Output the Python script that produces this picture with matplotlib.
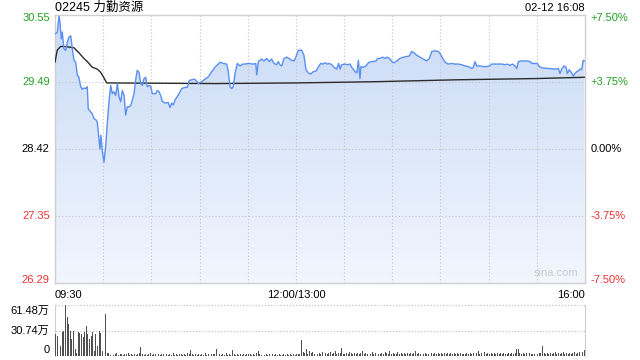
import matplotlib
matplotlib.use("Agg")
import matplotlib.pyplot as plt
import matplotlib.transforms as mtransforms
from matplotlib.patches import PathPatch
from matplotlib.colors import LinearSegmentedColormap
import numpy as np

plt.rcParams['font.family'] = ['Liberation Sans', 'Noto Sans CJK SC', 'DejaVu Sans']

title = "02245 力勤资源"
stamp = "02-12 16:08"
prev_close = 28.42
price_ticks = [30.55, 29.49, 28.42, 27.35, 26.29]
pct_ticks = ["+7.50%", "+3.75%", "0.00%", "-3.75%", "-7.50%"]
time_labels = ["09:30", "12:00/13:00", "16:00"]
vol_ticks = [61.48, 30.74, 0]
vol_labels = ["61.48万", "30.74万", "0"]

# minutes since 09:30 (trading time, lunch removed) and price
t_price = [0, 1.4, 2.5, 3.1, 3.9, 4.5, 5.6, 6.7, 7.7, 8.7, 9.8, 10.8, 11.8, 12.9, 13.9,
           14.9, 16, 17, 18, 19.1, 20.1, 20.7, 22.2, 23.2, 24.3, 25.3, 26.3, 27.4, 28,
           28.6, 29.5, 30.5, 31.6, 32.6, 33.6, 34.7, 35.7, 36.7, 37.8, 38.8, 39.9, 40.9,
           41.9, 43, 44, 45, 46.1, 47.1, 48.1, 49.2, 50.2, 51.2, 52.3, 53.4, 54.4, 55.4,
           56.5, 57.5, 58.5, 59.6, 60.6, 62.7, 63.7, 64.8, 65.8, 66.8, 68.5, 70.5, 71.6,
           72.7, 73.7, 74.7, 76.8, 78.9, 80.9, 82.4, 83.6, 85.1, 86.6, 87.8, 89.2, 91.3,
           93.4, 95.5, 97.6, 99.6, 101.7, 102.7, 104.8, 106.9, 107.9, 109, 110, 111,
           112.1, 113.5, 115.2, 116.9, 118.3, 120.4, 123.5, 125, 125.6, 126.6, 128.7,
           130.1, 131.8, 133.4, 134.9, 136.4, 138, 139, 140.1, 141.2, 142.6, 144.3,
           146.3, 147.4, 148.8, 150.1, 151.5, 153.6, 155, 156.3, 157.7, 159.2, 160.8,
           162.5, 163.9, 165.4, 166.7, 168.1, 169.6, 170.8, 172.3, 173.7, 175.4, 176.6,
           177.5, 178.5, 180.6, 182, 183.7, 184.7, 185.7, 186.8, 187.9, 188.9, 189.9,
           190.5, 192, 193.6, 195.1, 196.6, 198.2, 199.9, 200.9, 202.4, 204, 205.5,
           206.9, 208.6, 209.7, 211.1, 212.8, 214.8, 216.9, 219, 220.6, 222.1, 223.5,
           225.2, 227.3, 229.3, 231.4, 233.1, 234.6, 236.6, 238.7, 239.7, 241.4, 242.8,
           244.9, 247, 249.1, 251.1, 253.2, 255.3, 257.4, 259.5, 260.5, 261.5, 262.6,
           264.6, 266.7, 268.8, 270.4, 271.9, 275, 278.1, 280.2, 281.6, 283.3, 285,
           286.4, 287.5, 288.5, 290.6, 293.7, 295.8, 296.8, 300.3, 301.6, 303.1, 307.2,
           311.3, 313.4, 314.4, 315.5, 316.9, 318.2, 319, 320.2, 321.7, 322.7, 323.8,
           324.8, 325.8, 326.9, 327.9, 328.9, 329.6]
price = [30.25, 30.27, 30.53, 30.44, 30.17, 30.28, 30.01, 29.99, 30.12, 30.20, 30.22, 30.01,
         29.83, 29.80, 29.59, 29.56, 29.41, 29.37, 29.39, 29.38, 29.41, 29.06, 29.01, 28.98,
         28.90, 28.89, 28.85, 28.58, 28.42, 28.64, 28.37, 28.21, 28.48, 28.85, 29.17, 29.43,
         29.30, 29.33, 29.27, 29.46, 29.25, 29.17, 29.35, 29.27, 28.96, 29.09, 29.09, 29.11,
         29.19, 29.30, 29.51, 29.67, 29.64, 29.46, 29.43, 29.54, 29.56, 29.41, 29.43, 29.42,
         29.30, 29.30, 29.35, 29.33, 29.27, 29.18, 29.15, 29.16, 29.08, 29.15, 29.12, 29.20,
         29.28, 29.38, 29.40, 29.40, 29.51, 29.52, 29.53, 29.51, 29.46, 29.49, 29.53, 29.57,
         29.65, 29.72, 29.77, 29.80, 29.78, 29.77, 29.65, 29.41, 29.38, 29.41, 29.62, 29.78,
         29.74, 29.77, 29.77, 29.78, 29.77, 29.78, 29.60, 29.81, 29.85, 29.82, 29.86, 29.81,
         29.85, 29.78, 29.76, 29.81, 29.76, 29.74, 29.86, 29.88, 29.85, 29.83, 29.82, 29.89,
         29.99, 29.99, 29.91, 29.68, 29.63, 29.61, 29.65, 29.66, 29.72, 29.78, 29.77, 29.79,
         29.77, 29.78, 29.76, 29.72, 29.69, 29.78, 29.69, 29.76, 29.77, 29.76, 29.77, 29.72,
         29.69, 29.65, 29.63, 29.83, 29.54, 29.73, 29.72, 29.74, 29.79, 29.81, 29.81, 29.82,
         29.86, 29.86, 29.88, 29.86, 29.88, 29.85, 29.81, 29.79, 29.82, 29.86, 29.88, 29.89,
         29.90, 29.97, 29.95, 29.91, 29.88, 29.85, 29.82, 29.86, 29.97, 29.98, 29.97, 29.94,
         29.86, 29.80, 29.77, 29.78, 29.77, 29.77, 29.76, 29.74, 29.73, 29.70, 29.72, 29.81,
         29.74, 29.74, 29.73, 29.73, 29.74, 29.77, 29.77, 29.77, 29.76, 29.77, 29.75, 29.77,
         29.74, 29.70, 29.81, 29.82, 29.82, 29.81, 29.78, 29.78, 29.73, 29.71, 29.70, 29.69,
         29.70, 29.62, 29.69, 29.74, 29.72, 29.62, 29.68, 29.63, 29.58, 29.62, 29.65, 29.66,
         29.69, 29.68, 29.83, 29.82]

t_avg = [0, 1.4, 3.5, 5.6, 11.8, 12.9, 14.9, 18, 20.1, 23.2, 26.3, 28.4, 30.5, 32.2,
         33.6, 100, 150, 200, 250, 300, 329.6]
avg_price = [29.80, 29.99, 30.05, 30.05, 30.03, 30.00, 29.95, 29.86, 29.81, 29.72, 29.69,
             29.64, 29.55, 29.47, 29.47, 29.46, 29.47, 29.49, 29.52, 29.54, 29.56]

# volume per minute, in 万
volume = [26.6, 24.6, 27.5, 12.3, 28.7, 30.7, 61.5, 47.0, 39.0, 30.7, 20.5, 30.7, 8.0, 4.0,
          28.7, 27.5, 26.6, 22.5, 28.7, 35.7, 26.6, 20.5, 24.6, 28.7, 6.0, 26.6, 12.3, 30.7,
          27.5, 6.0, 8.0, 51.0, 4.0,
          3.5, 1.8, 2.6, 1.2, 2.9, 4.1, 1.5, 2.2, 3.0, 1.4, 2.7, 1.9, 3.3, 1.1, 2.4, 1.7,
          2.8, 1.3, 2.0, 3.6, 11.0, 2.5, 1.6, 2.9, 1.2, 2.1, 3.1,
          1.5, 2.3, 1.9, 9.0, 2.6, 1.4, 3.0, 2.0, 1.2, 2.8, 1.7, 2.4, 1.3, 3.2, 1.8, 2.5,
          1.1, 2.0, 2.9, 1.6, 2.2, 1.4, 3.4, 1.9, 7.8, 2.6, 1.5, 2.1, 1.3, 2.7,
          1.8, 2.4, 1.2, 3.1, 1.6, 2.2, 1.4, 2.9, 1.9, 2.5, 8.6, 6.5, 2.0, 1.3, 2.8, 1.7,
          3.3, 1.5, 2.1, 1.2, 7.0, 2.6, 1.8, 3.0, 1.4, 2.3, 1.6, 2.7, 1.1, 2.0,
          1.9, 2.4, 1.3, 2.8, 1.6, 3.5, 6.0, 2.2, 1.4, 2.6, 1.8, 2.1, 1.2, 2.9, 1.7, 2.3,
          1.5, 2.0, 1.3, 2.5, 1.8, 1.4, 2.2, 1.6, 2.0, 1.2, 1.9, 1.5, 2.3, 1.7,
          2.4, 3.0, 2.2, 19.0, 4.5, 3.2, 8.0, 2.6, 6.0, 3.4, 5.0, 2.8, 4.1, 2.3, 3.6, 2.9,
          4.4, 2.1, 3.8, 2.7, 3.1, 4.6, 2.5, 3.3, 6.0, 2.8, 4.0, 3.5, 9.4, 3.0,
          2.6, 3.9, 2.2, 4.8, 3.1, 2.5, 3.7, 2.0, 4.2, 2.9, 3.4, 6.0, 2.4, 3.8, 2.7, 3.2,
          2.1, 4.5, 2.8, 3.6, 2.3, 3.0, 2.6, 4.1, 2.2, 5.0, 3.3, 2.5, 6.0, 2.9,
          3.5, 2.4, 3.0, 4.3, 2.1, 3.7, 2.6, 3.2, 2.0, 4.0, 2.8, 3.4, 2.3, 3.9, 6.0, 2.7,
          3.1, 2.2, 4.4, 2.9, 3.6, 2.4, 3.0, 2.1, 3.8, 2.6, 3.3, 2.5, 4.2, 2.8,
          3.1, 2.3, 3.7, 2.6, 4.0, 2.2, 3.4, 2.9, 3.2, 2.0, 3.8, 2.5, 4.1, 2.7, 3.0, 2.4,
          3.5, 2.1, 3.9, 2.8, 3.3, 2.6, 3.6, 6.0, 2.4, 3.2, 2.9, 4.3, 2.2, 3.1,
          2.7, 3.5, 2.3, 4.0, 2.8, 3.2, 2.1, 3.7, 2.5, 3.9, 2.6, 3.0, 4.2, 2.4, 3.4, 2.9,
          3.6, 8.2, 9.0, 3.1, 2.5, 3.8, 2.2, 3.3, 2.7, 4.1, 2.4, 3.0, 2.8, 3.5,
          2.6, 3.9, 3.2, 12.3, 3.4, 2.9, 4.0, 2.5, 3.6, 2.8, 3.1, 4.4, 2.3, 3.7, 2.7, 3.3,
          4.6, 2.4, 3.8, 3.0, 4.1, 2.6, 3.5, 4.3, 2.9, 3.9, 4.8, 3.2, 4.5, 7.8]

green = '#22a022'
red = '#ee3030'
grid_c = '#c4c4c4'
frame_c = '#cfcfcf'

fig = plt.figure(figsize=(6.4, 3.6), dpi=100)
W, H = 640, 360
L, R = 55, 585
ax = fig.add_axes([L / W, 1 - 283 / H, (R - L) / W, (283 - 15) / H])
axv = fig.add_axes([L / W, 1 - 356 / H, (R - L) / W, (356 - 305) / H])

ymin, ymax = price_ticks[-1], price_ticks[0]
ax.set_xlim(0, 330)
ax.set_ylim(ymin, ymax)

# gradient fill under the price line
fill = ax.fill_between(t_price, price, ymin, color='none', lw=0)
clip = PathPatch(fill.get_paths()[0], transform=ax.transData, fc='none', ec='none')
ax.add_patch(clip)
cmap = LinearSegmentedColormap.from_list('f', ['#f2f6fe', '#c9dbf6'])
grad = np.linspace(0, 1, 256).reshape(-1, 1)
im = ax.imshow(grad, extent=[0, 330, ymin, ymax], origin='lower', aspect='auto',
               cmap=cmap, zorder=1)
im.set_clip_path(clip)

for i in range(1, 11):
    ax.axvline(i * 30, color=grid_c, lw=0.8, ls=(0, (1, 2)), zorder=2)
for p in price_ticks[1:-1]:
    ax.axhline(p, color=grid_c, lw=0.8, ls=(0, (1, 2)), zorder=2)

ax.plot(t_price, price, color='#5a8ff0', lw=1.0, zorder=4)
ax.plot(t_avg, avg_price, color='#2b2b2b', lw=1.0, zorder=3)

ax.set_xticks([])
ax.set_yticks([])
for s in ax.spines.values():
    s.set_color(frame_c)
    s.set_linewidth(1.0)

ytr = mtransforms.blended_transform_factory(ax.transAxes, ax.transData)
colors = [green, green, 'black', red, red]
offsets = [0.05, 0, 0, 0, -0.05]
for p, pl, c, off in zip(price_ticks, pct_ticks, colors, offsets):
    ax.text(-0.01, p - off, f"{p:.2f}", transform=ytr, ha='right', va='center',
            color=c, fontsize=8)
    ax.text(1.01, p - off, pl, transform=ytr, ha='left', va='center',
            color=c, fontsize=8)

fig.text(L / W, 1 - 8 / H, title, ha='left', va='center', fontsize=9)
fig.text(R / W, 1 - 8 / H, stamp, ha='right', va='center', fontsize=8)
ax.text(0.945, 0.02, "sina.com", transform=ax.transAxes, ha='center', va='bottom',
        color='#cccccc', fontsize=8)

xtr = mtransforms.blended_transform_factory(ax.transData, ax.transAxes)
for pos, lab, ha in zip([0, 150, 330], time_labels, ['left', 'center', 'right']):
    ax.text(pos, -0.025, lab, transform=xtr, ha=ha, va='top', fontsize=8)

# volume pane
axv.bar(np.arange(len(volume)) + 0.5, volume, width=0.6, color='#505050', zorder=3)
axv.set_xlim(0, 330)
axv.set_ylim(0, vol_ticks[0])
for v in vol_ticks[:2]:
    axv.axhline(v, color=grid_c, lw=0.9, ls=(0, (1, 1.5)), zorder=2, clip_on=False)
axv.set_xticks([])
axv.set_yticks([])
axv.spines['top'].set_visible(False)
axv.spines['bottom'].set_visible(False)
for s in ['left', 'right']:
    axv.spines[s].set_color(frame_c)
vtr = mtransforms.blended_transform_factory(axv.transAxes, axv.transData)
for v, lab, dy in zip(vol_ticks, vol_labels, [-7, 0, 7]):
    axv.text(-0.01, v + dy, lab, transform=vtr, ha='right', va='center', fontsize=8)

fig.savefig("out.png", dpi=100)
